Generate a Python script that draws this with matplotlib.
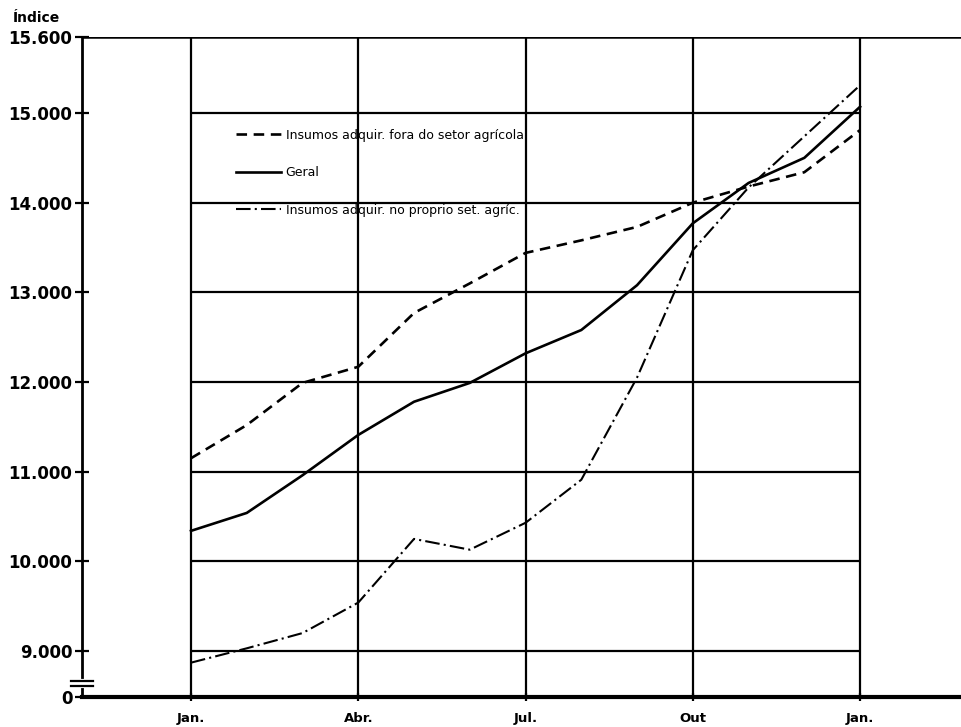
import numpy as np
import matplotlib.pyplot as plt

# months Jan (0) .. Jan next year (12)
months = np.arange(13)
month_ticks = [0, 3, 6, 9, 12]
month_labels = ["Jan.", "Abr.", "Jul.", "Out", "Jan."]

# index values
fora = [11150, 11520, 11990, 12170, 12770, 13100, 13440, 13580, 13730, 14000, 14180, 14340, 14810]
geral = [10340, 10540, 10960, 11410, 11780, 11990, 12320, 12580, 13080, 13770, 14220, 14500, 15070]
proprio = [8870, 9030, 9200, 9540, 10250, 10130, 10430, 10910, 12050, 13470, 14170, 14740, 15310]

grid_values = [9000, 10000, 11000, 12000, 13000, 14000, 15000]
y_bottom, y_top = 8487, 15848
y_tick_labels = ["0", "9.000", "10.000", "11.000", "12.000", "13.000", "14.000", "15.000", "15.600"]

fig = plt.figure(figsize=(9.61, 7.27), dpi=100)
ax = fig.add_axes([82 / 961, 30 / 727, 879 / 961, 660 / 727])

ax.set_xlim(-1.955, 13.81)
ax.set_ylim(y_bottom, y_top)

# grid: horizontal lines Jan..Jan, vertical lines full height
ax.hlines(grid_values, 0, 12, color="black", lw=1.6, zorder=1)
for m in month_ticks:
    ax.axvline(m, color="black", lw=1.6, zorder=1)
ax.axhline(y_top, color="black", lw=1.8, zorder=1)

ax.plot(months, fora, color="black", lw=1.9, ls=(0, (4, 2.5)),
        label="Insumos adquir. fora do setor agrícola", zorder=3)
ax.plot(months, geral, color="black", lw=1.9, ls="-", label="Geral", zorder=3)
ax.plot(months, proprio, color="black", lw=1.5, ls=(0, (7, 2, 1, 2)),
        label="Insumos adquir. no proprio set. agríc.", zorder=3)

# spines
for s in ["right", "top"]:
    ax.spines[s].set_visible(False)
ax.spines["left"].set_linewidth(2)
ax.spines["bottom"].set_linewidth(3)

ax.set_yticks([y_bottom] + grid_values + [y_top])
ax.set_yticklabels(y_tick_labels, fontsize=12, fontweight="bold")
ax.set_xticks(month_ticks)
ax.set_xticklabels(month_labels, fontsize=9.5, fontweight="bold")
ax.tick_params(axis="y", direction="inout", length=10, width=1.6, pad=2)
ax.tick_params(axis="x", direction="inout", length=6, width=1.6, pad=8)

# axis break marks near the zero
for yy in (0.025, 0.016):
    ax.plot([-0.012, 0.012], [yy, yy], transform=ax.transAxes, color="black",
            lw=1.6, clip_on=False, zorder=5)
ax.plot([0, 0], [0.016, 0.025], transform=ax.transAxes, color="white",
        lw=3, clip_on=False, zorder=4)

fig.text(13 / 961, 1 - 18 / 727, "Índice", fontsize=10, fontweight="bold", va="center")

leg = ax.legend(loc="upper left", bbox_to_anchor=(0.162, 0.878), frameon=False,
                fontsize=9, handlelength=3.6, handletextpad=0.4, labelspacing=1.95)

fig.savefig("out.png", dpi=100)
